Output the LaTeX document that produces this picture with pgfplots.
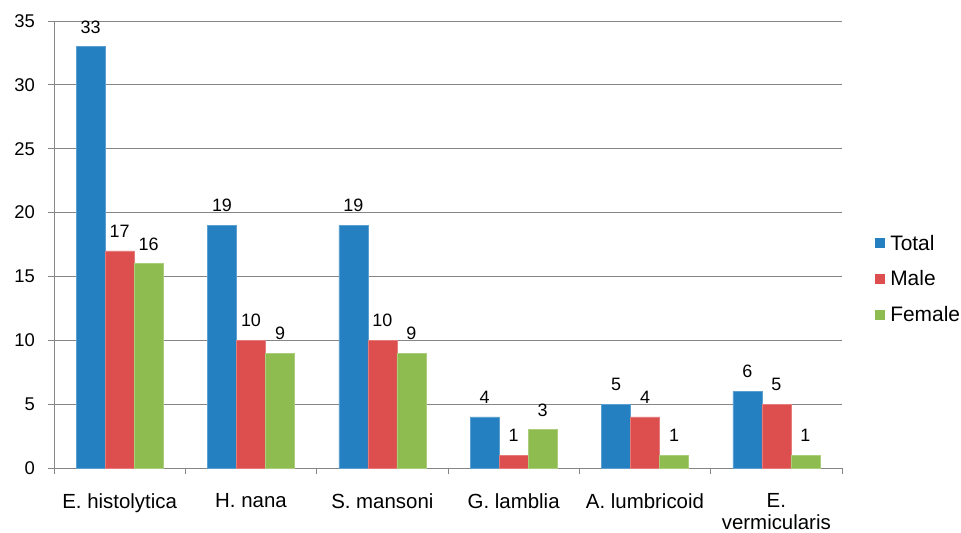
\documentclass[border=0pt]{standalone}
\usepackage{fontspec}
\setmainfont{Liberation Sans}
\usepackage{pgfplots}
\pgfplotsset{compat=1.18}
\definecolor{cTotal}{RGB}{37,128,194}
\definecolor{cMale}{RGB}{221,79,79}
\definecolor{cFemale}{RGB}{143,188,80}
\definecolor{gridc}{RGB}{134,134,134}
\begin{document}
\begin{tikzpicture}
\path[use as bounding box] (-54bp,-65bp) rectangle (907bp,468bp);
\begin{axis}[
  scale only axis, width=788bp, height=447bp,
  ybar=0pt, bar width=29bp,
  xmin=-0.5, xmax=5.5, ymin=0, ymax=35,
  xtick={0,...,5},
  xticklabels={E. histolytica, H. nana, S. mansoni, G. lamblia, A. lumbricoid, {E.\\vermicularis}},
  minor xtick={-0.5,0.5,...,5.5},
  ytick={0,5,...,35},
  axis x line*=bottom, axis y line*=left,
  axis line style={gridc, line width=0.8bp, -},
  ymajorgrids, major grid style={gridc, line width=0.8bp},
  tick style={gridc, line width=0.8bp},
  every major x tick/.append style={opacity=0},
  tick align=outside, major tick length=6bp, minor tick length=6bp,
  /pgf/number format/assume math mode=true,
  yticklabel style={font=\fontsize{18.5}{21}\selectfont, anchor=east, inner sep=0pt, xshift=-13bp},
  xticklabel style={font=\fontsize{20.5}{22.5}\selectfont, align=center, anchor=north, inner sep=0pt, yshift=-19bp},
  nodes near coords,
  every node near coord/.append style={font=\fontsize{18}{20}\selectfont, anchor=south, inner sep=0pt, yshift=13bp, black},
  legend style={at={(1.042,0.423)}, anchor=west, draw=none, fill=none, font=\fontsize{21}{24}\selectfont, row sep=15bp, column sep=3bp, inner sep=0pt},
  legend cell align=left,
  legend image code/.code={\path[#1,draw=none] (0bp,-5bp) rectangle (10bp,5bp);},
]
\addplot[fill=cTotal, draw=cTotal!75!white, line width=0.5bp] coordinates {(0,33) (1,19) (2,19) (3,4) (4,5) (5,6)};
\addplot[fill=cMale, draw=cMale!75!white, line width=0.5bp] coordinates {(0,17) (1,10) (2,10) (3,1) (4,4) (5,5)};
\addplot[fill=cFemale, draw=cFemale!75!white, line width=0.5bp] coordinates {(0,16) (1,9) (2,9) (3,3) (4,1) (5,1)};
\legend{Total, Male, Female}
\end{axis}
\end{tikzpicture}
\end{document}
